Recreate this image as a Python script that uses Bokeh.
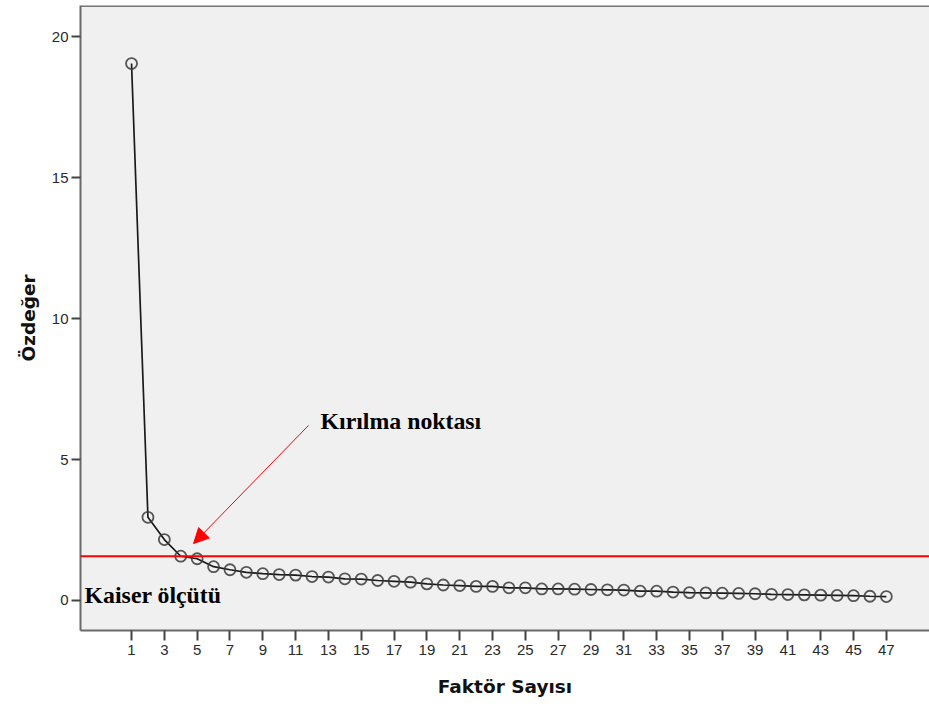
from bokeh.plotting import figure
from bokeh.models import Range1d, FixedTicker, Span, Arrow, NormalHead, ColumnDataSource
from bokeh.core.properties import value
from bokeh.embed import file_html
from bokeh.resources import INLINE

# ---- data ----
factors = list(range(1, 48))
eigenvalues = [19.04, 2.95, 2.16, 1.57, 1.48, 1.20, 1.09, 1.00, 0.95, 0.92,
               0.90, 0.85, 0.83, 0.77, 0.76, 0.71, 0.68, 0.65, 0.59, 0.55,
               0.53, 0.50, 0.50, 0.45, 0.45, 0.41, 0.41, 0.40, 0.39, 0.38,
               0.37, 0.33, 0.33, 0.30, 0.28, 0.27, 0.26, 0.25, 0.24, 0.22,
               0.21, 0.20, 0.19, 0.18, 0.17, 0.15, 0.14]
x_ticks = list(range(1, 48, 2))
y_ticks = [0, 5, 10, 15, 20]
kaiser_level = 1.57
x_label = "Faktör Sayısı"
y_label = "Özdeğer"
break_label = "Kırılma noktası"
kaiser_label = "Kaiser ölçütü"
break_label_pos = [12.52, 6.35]
kaiser_label_pos = [-1.86, 0.21]
arrow_start = [11.79, 6.21]
arrow_end = [4.78, 2.02]

p = figure(width=929, height=707, output_backend="svg", toolbar_location=None,
           x_range=Range1d(-2.11, 49.63), y_range=Range1d(-1.064, 21.1),
           min_border_left=80, min_border_right=0, min_border_top=5, min_border_bottom=77)

p.background_fill_color = "#f0f0f0"
p.border_fill_color = "white"
p.outline_line_color = None
p.xgrid.visible = False
p.ygrid.visible = False

for ax in (p.xaxis[0], p.yaxis[0]):
    ax.axis_line_color = "#6a6a6a"
    ax.axis_line_width = 2
    ax.major_tick_line_color = "#444444"
    ax.major_tick_line_width = 2
    ax.major_tick_in = 0
    ax.major_tick_out = 9
    ax.minor_tick_line_color = None
    ax.major_label_text_font = "Liberation Sans"
    ax.major_label_text_font_size = "15px"
    ax.major_label_text_color = "#2a2a2a"
    ax.axis_label_text_font = "DejaVu Sans"
    ax.axis_label_text_font_style = "bold"
    ax.axis_label_text_font_size = "18.5px"
    ax.axis_label_text_color = "#111111"

p.xaxis.ticker = FixedTicker(ticks=x_ticks)
p.yaxis.ticker = FixedTicker(ticks=y_ticks)
p.xaxis.axis_label = x_label
p.yaxis.axis_label = y_label
p.xaxis.major_tick_out = 10
p.xaxis.major_label_standoff = 4
p.yaxis.major_label_standoff = 3
p.xaxis.axis_label_standoff = 18
p.yaxis.axis_label_standoff = 10

# top border of the frame
p.add_layout(Span(location=21.1, dimension="width", line_color="#777777", line_width=3))

src = ColumnDataSource(dict(x=factors, y=eigenvalues))
p.line("x", "y", source=src, line_color="#1a1a1a", line_width=1.7)
p.scatter("x", "y", source=src, marker="circle", size=11, fill_color=None,
          line_color="#3a3a3a", line_alpha=0.85, line_width=1.8)

# Kaiser criterion line
p.add_layout(Span(location=kaiser_level, dimension="width", line_color="#ff0000", line_width=2))

# arrow
p.add_layout(Arrow(end=NormalHead(size=15, fill_color="#ff0000", line_color="#ff0000"),
                   x_start=arrow_start[0], y_start=arrow_start[1],
                   x_end=arrow_end[0], y_end=arrow_end[1],
                   line_color="#ff0000", line_width=1))

p.text(x=[break_label_pos[0]], y=[break_label_pos[1]], text=[break_label],
       text_font=value("Liberation Serif"), text_font_style="bold",
       text_font_size="23.8px", text_color="black", text_baseline="alphabetic", text_align="left")
p.text(x=[kaiser_label_pos[0]], y=[kaiser_label_pos[1]], text=[kaiser_label],
       text_font=value("Liberation Serif"), text_font_style="bold",
       text_font_size="23.8px", text_color="black", text_baseline="alphabetic", text_align="left")

open("out.html", "w").write(file_html(p, INLINE))
